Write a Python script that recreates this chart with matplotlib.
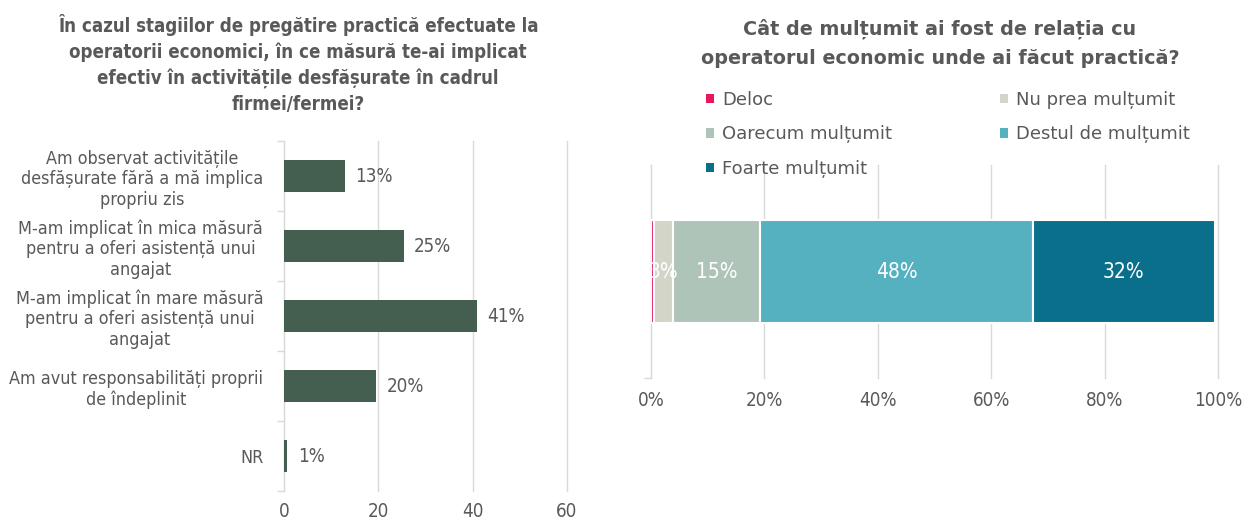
import matplotlib
matplotlib.use("Agg")
import matplotlib.pyplot as plt
from matplotlib.patches import Patch
import numpy as np

# ---------------- data ----------------
left_title = ("În cazul stagiilor de pregătire practică efectuate la\n"
              "operatorii economici, în ce măsură te-ai implicat\n"
              "efectiv în activitățile desfășurate în cadrul\n"
              "firmei/fermei?")
left_categories = [
    "Am observat activitățile\ndesfășurate fără a mă implica\npropriu zis",
    "M-am implicat în mica măsură\npentru a oferi asistență unui\nangajat",
    "M-am implicat în mare măsură\npentru a oferi asistență unui\nangajat",
    "Am avut responsabilități proprii\nde îndeplinit",
    "NR",
]
left_values = [12.9, 25.4, 40.9, 19.6, 0.7]
left_xticks = [0, 20, 40, 60]

right_title = ("Cât de mulțumit ai fost de relația cu\n"
               "operatorul economic unde ai făcut practică?")
right_series = ["Deloc", "Nu prea mulțumit", "Oarecum mulțumit",
                "Destul de mulțumit", "Foarte mulțumit"]
right_values = [0.5, 3.4, 15.4, 48.0, 32.1]
right_colors = ["#E8175D", "#D3D5C8", "#AFC4B8", "#55B0C0", "#0A6F8A"]
right_xticks = [0, 20, 40, 60, 80, 100]

# ---------------- style ----------------
TXT = "#595959"
GRID = "#D9D9D9"
BAR = "#445F4F"
W, H = 1251, 522

plt.rcParams['font.family'] = ['DejaVu Sans']
fig = plt.figure(figsize=(W / 100, H / 100), dpi=100)


def ax_px(l, t, r, b):
    return fig.add_axes([l / W, 1 - b / H, (r - l) / W, (b - t) / H])


# ---------------- left chart ----------------
ax1 = ax_px(284, 141, 567, 491)
y = np.arange(len(left_categories))
ax1.barh(y, left_values, height=0.46, color=BAR, zorder=3)
ax1.set_ylim(len(left_categories) - 0.5, -0.5)
ax1.set_xlim(0, 60)
ax1.set_xticks(left_xticks)
ax1.set_xticklabels([str(v) for v in left_xticks])
ax1.set_yticks(y)
ax1.set_yticklabels(left_categories)
for lab in ax1.get_yticklabels():
    lab.set_multialignment('center')
    lab.set_fontstretch('condensed')
    lab.set_linespacing(1.17)
for lab in ax1.get_xticklabels():
    lab.set_fontstretch('condensed')
ax1.set_yticks(np.arange(len(left_categories) + 1) - 0.5, minor=True)
ax1.tick_params(axis='y', which='major', length=0, pad=15, labelsize=12.9, labelcolor=TXT)
ax1.tick_params(axis='y', which='minor', length=5, color=GRID, width=1)
ax1.tick_params(axis='x', length=0, pad=8, labelsize=13.5, labelcolor=TXT)
ax1.grid(axis='x', color=GRID, linewidth=1, zorder=0)
for gl in ax1.get_xgridlines():
    gl.set_clip_on(False)
for s in ['top', 'right', 'bottom']:
    ax1.spines[s].set_visible(False)
ax1.spines['left'].set_color(GRID)
for yi, v in zip(y, left_values):
    ax1.text(v + 2.2, yi, f"{round(v):d}%", va='center', ha='left',
             fontsize=13.5, color=TXT, fontstretch='condensed')
fig.text(298 / W, 1 - 14 / H, left_title, ha='center', va='top',
         fontsize=13.4, fontweight='bold', color=TXT, fontstretch='condensed',
         linespacing=1.42)

# ---------------- right chart ----------------
ax2 = ax_px(651, 165, 1218, 378)
left = 0.0
for name, v, c in zip(right_series, right_values, right_colors):
    ax2.barh(0, v, left=left, height=0.48, color=c, edgecolor='white',
             linewidth=1.5, zorder=3)
    if v >= 2:
        ax2.text(left + v / 2, 0, f"{round(v):d}%", ha='center', va='center',
                 fontsize=15, color='white', zorder=4, fontstretch='condensed')
    left += v
ax2.set_xlim(0, 100)
ax2.set_ylim(-0.5, 0.5)
ax2.set_xticks(right_xticks)
ax2.set_xticklabels([f"{v}%" for v in right_xticks])
for lab in ax2.get_xticklabels():
    lab.set_fontstretch('condensed')
ax2.set_yticks([])
ax2.set_yticks([-0.5], minor=True)
ax2.tick_params(axis='y', which='minor', length=5, color=GRID, width=1)
ax2.tick_params(axis='x', length=0, pad=9, labelsize=13.5, labelcolor=TXT)
ax2.grid(axis='x', color=GRID, linewidth=1, zorder=0)
for gl in ax2.get_xgridlines():
    gl.set_clip_on(False)
for s in ['top', 'right', 'bottom']:
    ax2.spines[s].set_visible(False)
ax2.spines['left'].set_color(GRID)
fig.text(940 / W, 1 - 19 / H, right_title, ha='center', va='top',
         fontsize=13.8, fontweight='bold', color=TXT, linespacing=1.65)

handles = [Patch(facecolor=c, edgecolor='none') for c in right_colors]
order = [0, 2, 4, 1, 3]
leg = fig.legend([handles[i] for i in order], [right_series[i] for i in order],
                 ncol=2, loc='upper left', bbox_to_anchor=(699 / W, 1 - 84 / H),
                 frameon=False, fontsize=13, handlelength=0.42, handleheight=0.42,
                 handletextpad=0.45, columnspacing=6.0, labelspacing=0.9,
                 labelcolor=TXT, borderaxespad=0, borderpad=0.4)

fig.savefig("out.png", dpi=100)
